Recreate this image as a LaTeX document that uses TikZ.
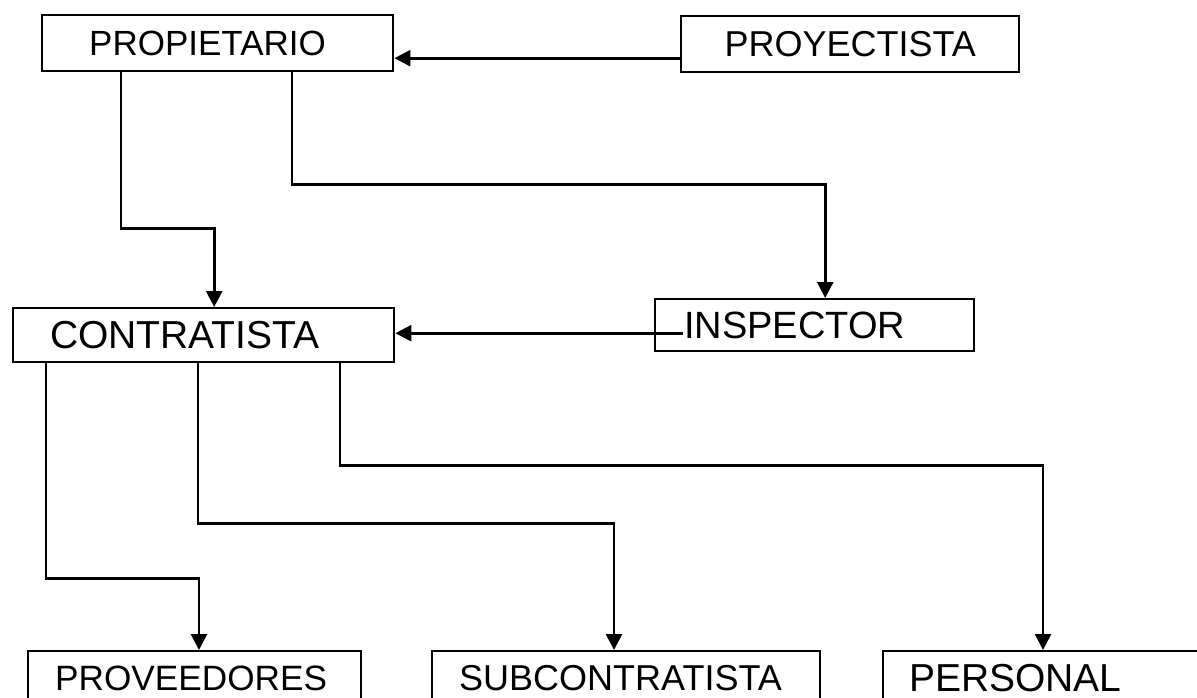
\documentclass[tikz,border=0pt]{standalone}
\usepackage{fontspec}
\setmainfont{Liberation Sans}
\usetikzlibrary{arrows.meta,calc}

\tikzset{
  caja/.style={draw, line width=1.2pt, rectangle, anchor=north west,
    inner ysep=0pt, align=left, font=\fontsize{18}{20}\selectfont},
  flecha/.style={line width=1.3pt, ->},
}

\begin{document}
\begin{tikzpicture}[>={Triangle[length=8pt,width=8pt]}, x=0.5pt, y=-0.5pt]

  % Page frame (bottom boxes run off the edge)
  \clip (0,0) rectangle (1197,697);

  % Top row
  \node[caja, minimum height=28pt, inner xsep=23.5pt, text width=128.5pt,
    font=\fontsize{17.5}{20}\selectfont] (prop) at (41,14) {PROPIETARIO};
  \node[caja, minimum width=169pt, minimum height=28pt, inner xsep=0pt,
    align=center] (proy) at (680,15) {PROYECTISTA};

  % Middle row
  \node[caja, minimum height=27pt, inner xsep=18.5pt, text width=153.5pt,
    font=\fontsize{19.5}{22}\selectfont] (cont) at (12,307) {CONTRATISTA};
  \node[caja, minimum height=26pt, inner xsep=14.5pt, text width=130.5pt,
    font=\fontsize{19}{22}\selectfont] (insp) at (654,298) {INSPECTOR};

  % Bottom row
  \node[caja, minimum height=27pt, inner xsep=13.5pt, text width=139.5pt,
    font=\fontsize{17.6}{20}\selectfont] (prov) at (27,650) {PROVEEDORES};
  \node[caja, minimum height=27pt, inner xsep=13.5pt, text width=167pt] (subc) at (431,650) {SUBCONTRATISTA};
  \node[caja, minimum height=27pt, inner xsep=13pt, text width=153pt,
    font=\fontsize{19.5}{22}\selectfont] (pers) at (882,650) {PERSONAL};

  % Proyectista -> propietario
  \draw[flecha] ($(proy.west)+(0,14)$) coordinate (p1) -- (p1 -| prop.east);

  % Propietario -> contratista, inspector
  \draw[flecha] ($(prop.south west)+(80,0)$) -- ++(0,156) -| ($(cont.north)+(10.5,0)$);
  \draw[flecha] ($(prop.south west)+(251,0)$) -- ++(0,112) -| ($(insp.north)+(10.5,0)$);

  % Inspector -> contratista
  \draw[flecha] ($(insp.west)+(29,8)$) coordinate (p2) -- (p2 -| cont.east);

  % Contratista -> bottom row
  \draw[flecha] ($(cont.south west)+(34,0)$) -- ++(0,215) -| ($(prov.north west)+(172,0)$);
  \draw[flecha] ($(cont.south west)+(186,0)$) -- ++(0,160) -| ($(subc.north west)+(183,0)$);
  \draw[flecha] ($(cont.south west)+(328,0)$) -- ++(0,102) -| ($(pers.north west)+(161,0)$);

\end{tikzpicture}
\end{document}
